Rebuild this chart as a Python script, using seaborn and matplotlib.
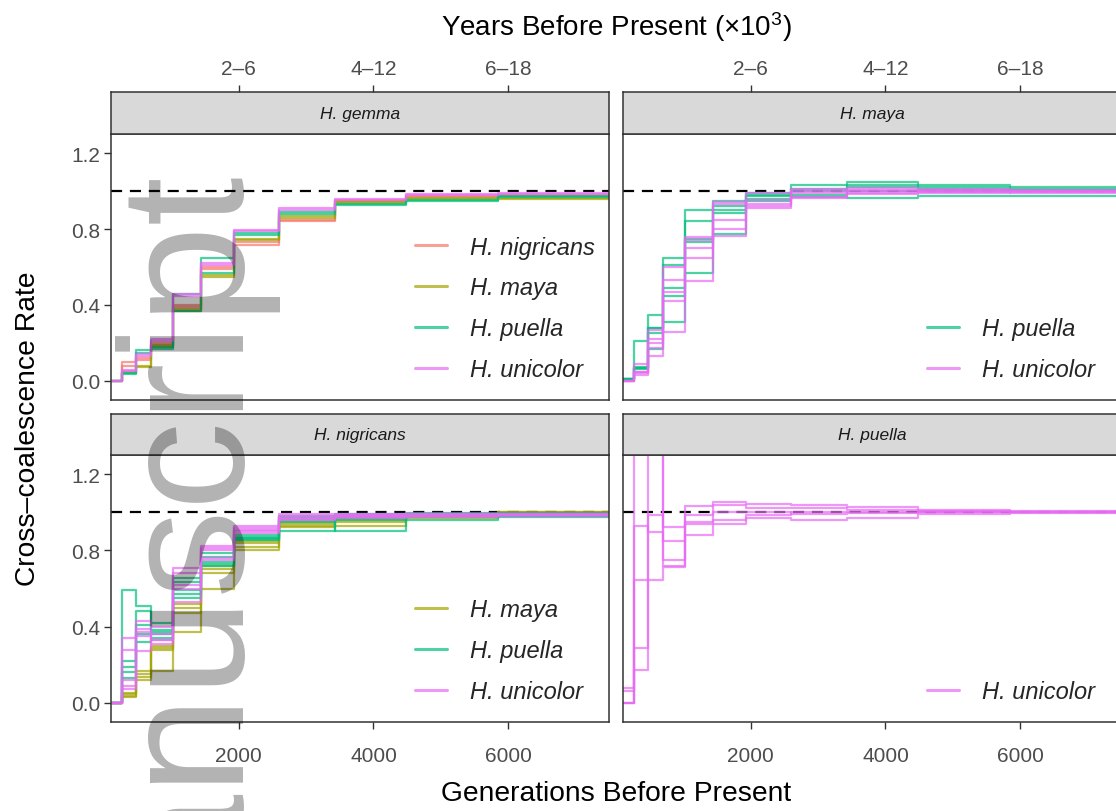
import numpy as np
import pandas as pd
import matplotlib
matplotlib.use("Agg")
import matplotlib.pyplot as plt
import seaborn as sns
from matplotlib.lines import Line2D

# ---------------- data ----------------
# start of each time segment (generations), plus an end point
seg_start = [0, 270, 467, 700, 1026, 1431, 1935, 2592, 3432, 4484, 5848]
seg_end = 9500

species_order = ["H. nigricans", "H. maya", "H. puella", "H. unicolor"]
species_colors = ["#F8766D", "#A3A500", "#00BF7D", "#E76BF3"]
panel_order = ["H. gemma", "H. maya", "H. nigricans", "H. puella"]

x_ticks = [2000, 4000, 6000]
x_tick_labels = ["2000", "4000", "6000"]
top_tick_labels = ["2\u20136", "4\u201312", "6\u201318"]
y_ticks = [0.0, 0.4, 0.8, 1.2]
y_tick_labels = ["0.0", "0.4", "0.8", "1.2"]

# panel H. gemma
gemma_nigricans = [
    [0, 0.10, 0.12, 0.20, 0.40, 0.60, 0.73, 0.85, 0.95, 0.975, 0.98],
    [0, 0.08, 0.11, 0.19, 0.39, 0.59, 0.715, 0.84, 0.945, 0.97, 0.975],
]
gemma_maya = [
    [0, 0.05, 0.08, 0.19, 0.38, 0.56, 0.75, 0.87, 0.94, 0.965, 0.965],
    [0, 0.04, 0.075, 0.18, 0.37, 0.55, 0.74, 0.86, 0.935, 0.96, 0.96],
]
gemma_puella = [
    [0, 0.04, 0.165, 0.18, 0.46, 0.645, 0.78, 0.89, 0.93, 0.955, 0.975],
    [0, 0.035, 0.15, 0.17, 0.37, 0.57, 0.77, 0.88, 0.925, 0.95, 0.97],
]
gemma_unicolor = [
    [0, 0.06, 0.14, 0.22, 0.46, 0.62, 0.795, 0.91, 0.96, 0.985, 0.99],
    [0, 0.055, 0.13, 0.21, 0.45, 0.61, 0.79, 0.90, 0.955, 0.98, 0.985],
]

# panel H. maya
maya_puella = [
    [0.01, 0.21, 0.35, 0.31, 0.90, 0.95, 0.99, 1.03, 1.045, 1.03, 1.02],
    [0.01, 0.075, 0.28, 0.61, 0.84, 0.90, 0.98, 0.97, 0.965, 0.975, 0.975],
    [0.01, 0.065, 0.255, 0.49, 0.73, 0.885, 0.96, 1.01, 1.02, 1.01, 1.005],
    [0.01, 0.07, 0.17, 0.45, 0.57, 0.775, 0.95, 1.0, 1.0, 1.0, 1.0],
    [0.01, 0.07, 0.28, 0.65, 0.75, 0.92, 0.975, 0.98, 1.03, 1.02, 1.01],
]
maya_unicolor = [
    [0.0, 0.09, 0.27, 0.26, 0.76, 0.93, 0.99, 1.01, 1.015, 1.01, 1.005],
    [0.0, 0.045, 0.22, 0.53, 0.74, 0.85, 0.955, 1.0, 1.0, 1.0, 1.0],
    [0.0, 0.03, 0.175, 0.47, 0.65, 0.80, 0.92, 0.97, 0.99, 0.995, 0.99],
    [0.0, 0.05, 0.13, 0.42, 0.525, 0.765, 0.91, 0.965, 0.985, 0.99, 0.995],
    [0.0, 0.04, 0.20, 0.60, 0.70, 0.94, 0.93, 0.99, 1.005, 1.0, 1.0],
]

# panel H. nigricans
nigricans_maya = [
    [0, 0.05, 0.17, 0.30, 0.52, 0.68, 0.84, 0.93, 0.93, 0.97, 1.0],
    [0, 0.03, 0.135, 0.275, 0.47, 0.60, 0.80, 0.92, 0.96, 0.98, 0.995],
    [0, 0.035, 0.12, 0.17, 0.37, 0.72, 0.85, 0.94, 0.95, 0.975, 0.99],
    [0, 0.045, 0.15, 0.29, 0.50, 0.70, 0.82, 0.95, 0.97, 0.99, 1.0],
]
nigricans_puella = [
    [0, 0.59, 0.51, 0.42, 0.655, 0.785, 0.88, 0.98, 0.90, 0.995, 0.975],
    [0, 0.22, 0.48, 0.37, 0.635, 0.765, 0.865, 0.96, 0.98, 0.96, 0.98],
    [0, 0.19, 0.41, 0.38, 0.59, 0.74, 0.87, 0.90, 0.97, 0.98, 0.99],
    [0, 0.16, 0.36, 0.36, 0.57, 0.73, 0.855, 0.95, 0.99, 0.985, 0.985],
    [0, 0.13, 0.32, 0.34, 0.55, 0.72, 0.86, 0.97, 0.96, 0.99, 0.995],
]
nigricans_unicolor = [
    [0, 0.34, 0.43, 0.40, 0.71, 0.825, 0.93, 0.99, 0.99, 0.99, 0.99],
    [0, 0.28, 0.39, 0.33, 0.68, 0.81, 0.915, 0.98, 0.98, 0.985, 0.985],
    [0, 0.09, 0.27, 0.33, 0.53, 0.80, 0.90, 0.97, 0.975, 0.98, 0.98],
    [0, 0.075, 0.37, 0.31, 0.60, 0.75, 0.89, 0.96, 0.97, 0.975, 0.99],
    [0, 0.12, 0.35, 0.36, 0.62, 0.76, 0.905, 0.965, 0.985, 0.99, 0.985],
]

# panel H. puella
puella_unicolor = [
    [0.00, 1.60, 1.60, 0.72, 0.95, 0.96, 0.986, 1.0, 1.0, 1.0, 1.0],
    [0.08, 0.29, 1.50, 0.75, 0.88, 0.94, 0.968, 0.96, 0.968, 0.99, 0.995],
    [0.06, 0.175, 0.986, 0.925, 0.986, 1.0, 1.0, 0.99, 0.995, 1.005, 1.005],
    [0.00, 0.928, 0.895, 0.85, 0.94, 1.039, 1.021, 1.02, 1.01, 1.01, 1.0],
    [0.00, 0.644, 0.644, 0.715, 1.033, 1.056, 1.044, 1.039, 1.025, 1.0, 1.002],
]

panel_series = {
    "H. gemma": [("H. nigricans", gemma_nigricans), ("H. maya", gemma_maya),
                 ("H. puella", gemma_puella), ("H. unicolor", gemma_unicolor)],
    "H. maya": [("H. puella", maya_puella), ("H. unicolor", maya_unicolor)],
    "H. nigricans": [("H. maya", nigricans_maya), ("H. puella", nigricans_puella),
                     ("H. unicolor", nigricans_unicolor)],
    "H. puella": [("H. unicolor", puella_unicolor)],
}

rows = []
times = seg_start + [seg_end]
for panel, series in panel_series.items():
    for sp, reps in series:
        for i, vals in enumerate(reps):
            v = list(vals) + [vals[-1]]
            for t, r in zip(times, v):
                rows.append((panel, sp, f"{sp}_{i}", t, r))
df = pd.DataFrame(rows, columns=["panel", "species", "unit", "gen", "rate"])

palette = dict(zip(species_order, species_colors))

# ---------------- figure ----------------
sns.set_theme(style="white")
plt.rcParams["font.family"] = ["Liberation Sans", "DejaVu Sans"]
plt.rcParams["mathtext.fontset"] = "custom"
plt.rcParams["mathtext.rm"] = "Liberation Sans"
plt.rcParams["mathtext.it"] = "Liberation Sans:italic"

W, H = 1116, 812
fig = plt.figure(figsize=(W / 100, H / 100), dpi=100)
fig.patch.set_facecolor("white")


def px_axes(l, t, r, b):
    return fig.add_axes([l / W, 1 - b / H, (r - l) / W, (b - t) / H])


FRAME = "#333333"
TICKLAB = "#4D4D4D"
XLIM = (100, 7500)
YLIM = (-0.1, 1.3)

cols = [(111, 609), (623, 1121)]
rows_px = [((93, 135), (135, 401)), ((415, 456), (456, 723))]

for idx, panel in enumerate(panel_order):
    r, c = divmod(idx, 2)
    l, rr = cols[c]
    (st, sb), (pt, pb) = rows_px[r]
    ax = px_axes(l, pt, rr, pb)
    sax = px_axes(l, st, rr, sb)

    sub = df[df["panel"] == panel]
    present = [s for s in species_order if s in set(sub["species"])]
    ax.axhline(1.0, color="black", lw=1.6, ls=(0, (5, 3.5)), zorder=1)
    sns.lineplot(data=sub, x="gen", y="rate", hue="species", units="unit",
                 estimator=None, drawstyle="steps-post", hue_order=present,
                 palette=palette, alpha=0.7, linewidth=1.6, legend=False,
                 sort=False, ax=ax, zorder=2)
    ax.set_xlim(*XLIM)
    ax.set_ylim(*YLIM)
    ax.set_xlabel("")
    ax.set_ylabel("")
    ax.grid(False)
    for sp in ax.spines.values():
        sp.set_color(FRAME)
        sp.set_linewidth(1.1)
    ax.set_xticks(x_ticks)
    ax.set_yticks(y_ticks)
    ax.tick_params(axis="both", length=5, width=1.0, color=FRAME,
                   labelcolor=TICKLAB, labelsize=15, direction="out")
    ax.tick_params(axis="x", pad=12)
    if c == 0:
        ax.set_yticklabels(y_tick_labels)
        ax.tick_params(axis="y", left=True, pad=3)
    else:
        ax.tick_params(axis="y", left=False, labelleft=False)
    if r == 1:
        ax.set_xticklabels(x_tick_labels)
        ax.tick_params(axis="x", bottom=True)
    else:
        ax.tick_params(axis="x", bottom=False, labelbottom=False)

    handles = [Line2D([0], [0], color=palette[s], lw=2.2, alpha=0.7) for s in present]
    ax.legend(handles, present, loc="lower left", bbox_to_anchor=(0.61, 0.072),
              frameon=False, prop={"style": "italic", "size": 17},
              handlelength=1.35, handletextpad=1.0, labelspacing=0.75,
              borderpad=0, borderaxespad=0)

    # strip
    sax.set_facecolor("#D9D9D9")
    sax.set_xlim(*XLIM)
    sax.set_ylim(0, 1)
    sax.set_yticks([])
    for sp in sax.spines.values():
        sp.set_color(FRAME)
        sp.set_linewidth(1.1)
    sax.text(0.5, 0.5, panel, transform=sax.transAxes, ha="center", va="center",
             fontsize=12.5, style="italic", color="#1A1A1A")
    if r == 0:
        sax.xaxis.tick_top()
        sax.set_xticks(x_ticks)
        sax.set_xticklabels(top_tick_labels)
        sax.tick_params(axis="x", length=5, width=1.0, color=FRAME,
                        labelcolor=TICKLAB, labelsize=15, pad=5)
    else:
        sax.set_xticks([])

fig.text(616 / W, 1 - 27 / H, r"Years Before Present ($\times10^3$)",
         ha="center", va="center", fontsize=20, color="black")
fig.text(616 / W, 1 - 794 / H, "Generations Before Present",
         ha="center", va="center", fontsize=20.3, color="black")
fig.text(28 / W, 1 - 429 / H, "Cross\u2013coalescence Rate", rotation=90,
         ha="center", va="center", fontsize=20.3, color="black")

# watermark
fig.text(232 / W, 1 - 164 / H, "manuscript", rotation=90, rotation_mode="anchor",
         ha="right", va="baseline", fontsize=127, color="black", alpha=0.3,
         zorder=10)

fig.savefig("out.png", dpi=100)
